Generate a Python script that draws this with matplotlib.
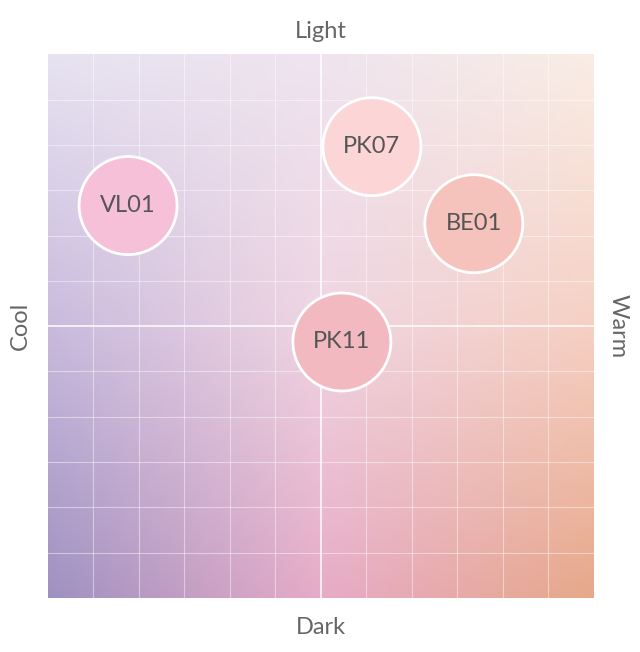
import numpy as np
import matplotlib.pyplot as plt
from matplotlib.colors import to_rgb

# Swatch data (x: cool -> warm, y: dark -> light)
names = ['VL01', 'PK07', 'BE01', 'PK11']
warmth = [-4.24, 1.12, 3.36, 0.46]
lightness = [2.66, 3.96, 2.26, -0.35]
colors = ['#f6c0d9', '#fcd6d6', '#f5c3bb', '#f2b9c1']

# background gradient control colours (rows top -> bottom)
grad = [['#e7e3f1', '#efe4ef', '#f9ede5'],
        ['#c9badd', '#efd5e2', '#f6d0c3'],
        ['#9e91c1', '#e7abc7', '#e7a889']]

ctrl = np.array([[to_rgb(c) for c in row] for row in grad])
n = 300
u = np.linspace(0, 2, n)
i0 = np.clip(np.floor(u).astype(int), 0, 1)
t = u - i0
img = np.zeros((n, n, 3))
for r in range(n):
    a, ta = i0[r], t[r]
    for k in range(3):
        rowA = ctrl[a, :, k] * (1 - ta) + ctrl[a + 1, :, k] * ta
        img[r, :, k] = rowA[i0] * (1 - t) + rowA[i0 + 1] * t

fig = plt.figure(figsize=(6.4, 6.52), dpi=100)
ax = fig.add_axes([0.075, 0.0828, 0.853, 0.834])
ax.imshow(img, extent=[-6, 6, -6, 6], origin='upper', aspect='auto', zorder=0)
for v in range(-5, 6):
    lw, al = (1.2, 0.9) if v == 0 else (0.8, 0.45)
    ax.axvline(v, color='white', lw=lw, alpha=al, zorder=1)
    ax.axhline(v, color='white', lw=lw, alpha=al, zorder=1)

ax.scatter(warmth, lightness, s=4979, c=colors, edgecolors='white', linewidths=2, zorder=3)
for nm, x, y in zip(names, warmth, lightness):
    ax.text(x, y, nm, ha='center', va='center', fontsize=17, color='#555555',
            family='Lato', zorder=4)

ax.set_xlim(-6, 6)
ax.set_ylim(-6, 6)
ax.set_xticks([])
ax.set_yticks([])
for s in ax.spines.values():
    s.set_visible(False)

lab = dict(fontsize=17, color='#666666', family='Lato')
fig.text(0.502, 0.952, 'Light', ha='center', va='center', **lab)
fig.text(0.502, 0.038, 'Dark', ha='center', va='center', **lab)
fig.text(0.032, 0.50, 'Cool', ha='center', va='center', rotation=90, **lab)
fig.text(0.966, 0.50, 'Warm', ha='center', va='center', rotation=-90, **lab)

fig.savefig('out.png', dpi=100)
